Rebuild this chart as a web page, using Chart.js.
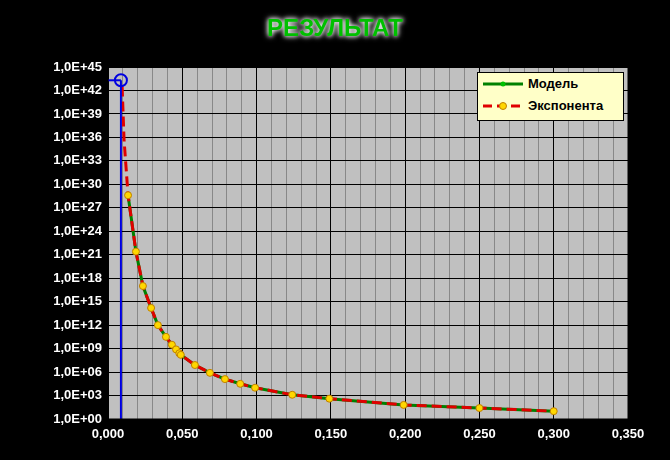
<!DOCTYPE html>
<html><head><meta charset="utf-8">
<script src="https://cdn.jsdelivr.net/npm/chart.js@4"></script>
<style>
body{margin:0;background:#000;width:670px;height:460px;overflow:hidden;font-family:"Liberation Sans",Arial,sans-serif}
#t{position:absolute;top:14px;left:0;width:670px;text-align:center;color:#00c000;font-weight:bold;font-size:24px;text-shadow:0 0 4px #fff,0 0 6px #fff}
#lg{position:absolute;left:477px;top:72px;width:145px;height:47px;background:#ffffc8;border:1px solid #000;font-weight:bold;font-size:13px;color:#000}
#lg div{position:relative;height:22px;line-height:22px;padding-left:50px}
#lg svg{position:absolute;left:5px;top:3px}
</style></head><body>
<canvas id="c" width="670" height="460"></canvas>
<div id="t">РЕЗУЛЬТАТ</div>
<div id="lg">
<div><svg width="40" height="16"><line x1="0" y1="8" x2="40" y2="8" stroke="#008000" stroke-width="3"/><circle cx="20" cy="8" r="2.5" fill="#00c000"/></svg>Модель</div>
<div><svg width="40" height="16"><line x1="0" y1="8" x2="40" y2="8" stroke="#e00000" stroke-width="3" stroke-dasharray="9,5"/><circle cx="20" cy="8" r="3.5" fill="#ffd700" stroke="#c08000"/></svg>Экспонента</div>
</div>
<script>
const xVals=[0.0135,0.0188,0.0235,0.029,0.0336,0.039,0.043,0.0458,0.048,0.049,0.0585,0.0686,0.0787,0.089,0.099,0.124,0.149,0.199,0.25,0.3];
const logY=[28.6,21.4,17,14.2,12,10.5,9.5,8.9,8.4,8.2,6.9,5.9,5.1,4.5,4.0,3.1,2.6,1.8,1.4,1.0];
const expHeadX=[0.0095,0.0108];
const expHeadLog=[42.5,35.7];
const markX=0.0087, markLog=43.3;
const yTickExp=[0,3,6,9,12,15,18,21,24,27,30,33,36,39,42,45];
const model=xVals.map((x,i)=>({x,y:Math.pow(10,logY[i])}));
const expo=expHeadX.map((x,i)=>({x,y:Math.pow(10,expHeadLog[i])})).concat(model);
const mY=Math.pow(10,markLog);
const bg={id:'bg',beforeDraw(c){const a=c.chartArea,g=c.ctx;g.save();g.fillStyle='#c0c0c0';g.fillRect(a.left,a.top,a.right-a.left,a.bottom-a.top);g.restore();},
afterDraw(c){const a=c.chartArea,g=c.ctx;g.save();g.strokeStyle='#000';g.lineWidth=1;g.strokeRect(a.left,a.top,a.right-a.left,a.bottom-a.top);g.restore();}};
new Chart(document.getElementById('c'),{type:'scatter',
data:{datasets:[
{data:model,showLine:true,borderColor:'#008000',borderWidth:3,pointRadius:0,order:3},
{data:expo,showLine:true,borderColor:'#e00000',borderWidth:3,borderDash:[10,5],pointRadius:expo.map((p,i)=>i<2?0:3.5),pointBackgroundColor:'#ffd700',pointBorderColor:'#c08000',pointBorderWidth:1,order:2},
{data:[{x:markX,y:1},{x:markX,y:mY}],showLine:true,borderColor:'#0000e0',borderWidth:2,pointRadius:0,order:1},
{data:[{x:0,y:mY},{x:markX,y:mY}],showLine:true,borderColor:'#0000e0',borderWidth:2,pointRadius:[0,6],pointBorderColor:'#0000e0',pointBackgroundColor:'rgba(0,0,0,0)',pointBorderWidth:2,order:0}
]},
options:{animation:false,responsive:false,layout:{padding:{top:67,right:42,left:0,bottom:0}},
plugins:{legend:{display:false},tooltip:{enabled:false}},
scales:{
x:{type:'linear',min:0,max:0.35,border:{display:false},
ticks:{stepSize:0.01,autoSkip:false,maxRotation:0,color:'#fff',font:{size:13,weight:'bold',family:'Liberation Sans'},padding:8,
callback:v=>{const k=Math.round(v*100);return k%5===0?(k/100).toFixed(3).replace('.',','):'';}},
grid:{color:c=>Math.round(c.tick.value*100)%5===0?'#000':'#888',lineWidth:1,drawTicks:false},
afterFit(s){s.height=41;}},
y:{type:'logarithmic',min:1,max:1e45,border:{display:false},
afterBuildTicks(s){s.ticks=yTickExp.map(e=>({value:Math.pow(10,e)}));},
ticks:{color:'#fff',font:{size:13,weight:'bold',family:'Liberation Sans'},padding:6,
callback:v=>{const e=Math.round(Math.log10(v));return '1,0E+'+(e<10?'0'+e:e);}},
grid:{color:'#000',lineWidth:1,drawTicks:false},
afterFit(s){s.width=108;}}
}},plugins:[bg]});
</script></body></html>
